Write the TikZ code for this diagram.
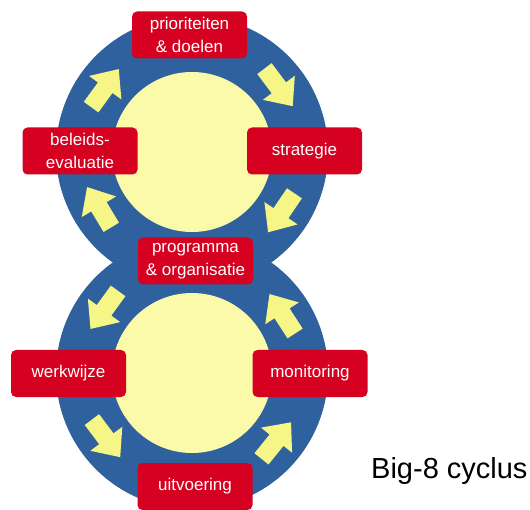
\documentclass[tikz,border=0pt]{standalone}
\usepackage{fontspec}
\setmainfont{Liberation Sans}
\usepackage{tikz}
\usetikzlibrary{positioning}

\definecolor{ringblue}{RGB}{46,97,157}
\definecolor{innyellow}{RGB}{250,250,168}
\definecolor{arrowyellow}{RGB}{246,246,135}
\definecolor{boxred}{RGB}{214,0,32}

\tikzset{
	phase/.style={rectangle,rounded corners=5pt,fill=boxred,text=white,
		minimum width=115pt,minimum height=47pt,inner sep=2pt,align=center,
		font=\fontsize{17}{23}\selectfont},
	flowarrow/.pic={
		\fill[arrowyellow] (-23,-9) -- (1,-9) -- (1,-20) -- (24,0) -- (1,20) -- (1,9) -- (-23,9) -- cycle;
	}
}

\begin{document}
\begin{tikzpicture}[x=1pt,y=1pt]
			\useasboundingbox (0,0) rectangle (530,-510);
			\coordinate (top) at (192,-152);
			\coordinate (bot) at (192,-373);
			
			% rings
			\fill[ringblue] (top) circle [radius=136];
			\fill[ringblue] (bot) circle [radius=136];
			\fill[innyellow] (top) circle [radius=80];
			\fill[innyellow] (bot) circle [radius=80];
			
			% arrows, top clockwise, bottom counterclockwise
			\foreach \a/\d in {144/54,37/-53,-34/-124,-149/121} {
				\path (top) ++(\a:108) pic[rotate=\d] {flowarrow};
			}
			\foreach \a/\d in {144/234,33/123,-143/-53,-39/51} {
				\path (bot) ++(\a:108) pic[rotate=\d] {flowarrow};
			}
			
			% phases
			\node[phase] (prio) at (189.5,-35) {prioriteiten\\\& doelen};
			\node[phase] (strat) at (304.5,-151) {strategie};
			\node[phase] (evalu) at (80,-151) {beleids-\\evaluatie};
			\node[phase] (progr) at (195.5,-261) {programma\\\& organisatie};
			\node[phase] (werkw) at (68.5,-373.5) {werkwijze};
			\node[phase] (monit) at (310,-373.5) {monitoring};
			\node[phase] (uitv) at (195,-486.5) {uitvoering};
			
			\node[anchor=base west,inner sep=0pt,font=\fontsize{29}{32}\selectfont] (title) at (371,-478) {Big-8 cyclus};
			
		\end{tikzpicture}
\end{document}
